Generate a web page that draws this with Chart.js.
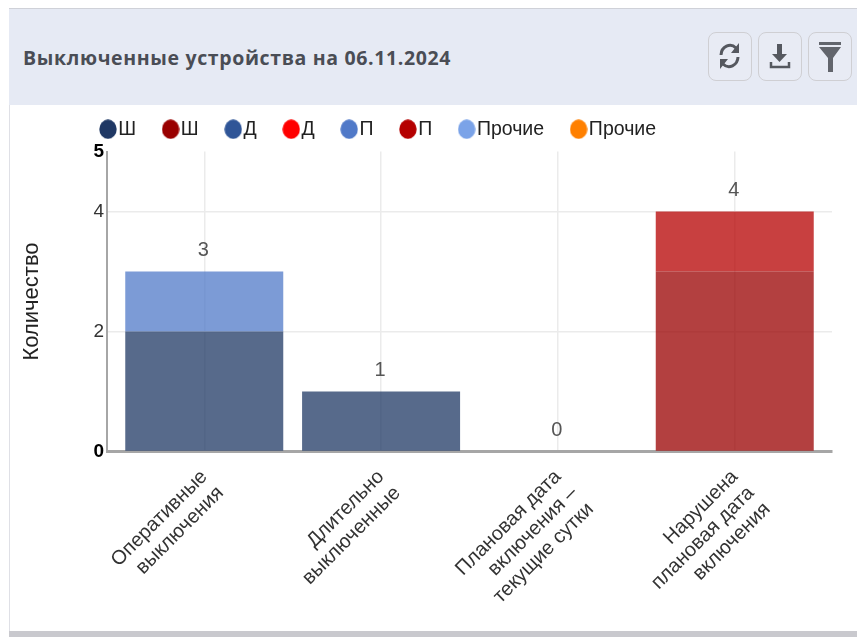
<!DOCTYPE html>
<html><head><meta charset="utf-8">
<style>
html,body{margin:0;padding:0;background:#fff;width:857px;height:637px;overflow:hidden}
#card{position:absolute;left:9px;top:8px;width:848px;height:629px;border-left:1px solid #dfe0e6;box-sizing:border-box}
#head{position:absolute;left:9px;top:8px;width:848px;height:97px;background:#e6eaf4;border-top:1px solid #cfd1d8;box-sizing:border-box}
#title{position:absolute;left:23px;top:44px;font:bold 19.5px "Open Sans";color:#4a4d55;white-space:nowrap;letter-spacing:.64px}
.btn{position:absolute;top:32px;width:44px;height:49px;border:1.5px solid #cfcfd3;border-radius:8px;box-sizing:border-box;background:#e8ebf4}
.btn svg{position:absolute;left:0;top:0}
#foot{position:absolute;left:9px;top:631px;width:848px;height:6px;background:#c9c9ce}
#wrap{position:absolute;left:10px;top:105px;width:847px;height:526px}
canvas{display:block}
</style></head><body>
<div id="card"></div><div id="head"></div>
<div id="title">Выключенные устройства на 06.11.2024</div>
<div class="btn" style="left:708px"><svg width="41" height="46" viewBox="0 0 41 46" fill="none"><path d="M12 22a9 10 0 0 1 15-7" stroke="#55585f" stroke-width="3"/><path d="M29 24a9 10 0 0 1-15 7" stroke="#55585f" stroke-width="3"/><path d="M30 10v10h-8z M11 36v-10h8z" fill="#55585f"/></svg></div>
<div class="btn" style="left:758px"><svg width="41" height="46" viewBox="0 0 41 46"><path d="M18 11h5v10h5l-7.500 8-7.500-8h5z" fill="#55585f"/><path d="M12 29v5h18v-5" stroke="#55585f" stroke-width="2.500" fill="none"/></svg></div>
<div class="btn" style="left:808px"><svg width="41" height="46" viewBox="0 0 41 46"><path d="M10 9h22v3H10z M10 14h22l-8 11v14h-5V25z" fill="#62656c"/></svg></div>
<div id="foot"></div>
<div id="wrap"><canvas id="c" width="847" height="526"></canvas></div>
<script src="https://cdn.jsdelivr.net/npm/chart.js@4"></script>
<script>
const categories=[["Оперативные","выключения"],["Длительно","выключенные"],["Плановая дата","включения –","текущие сутки"],["Нарушена","плановая дата","включения"]];
const positions=[0,1,2,3];
const shDark=[2,1,0,0];
const shRed=[0,0,0,3];
const dBlue=[0,0,0,0];
const dRed=[0,0,0,0];
const pBlue=[1,0,0,0];
const pRed=[0,0,0,1];
const otherBlue=[0,0,0,0];
const otherOrange=[0,0,0,0];
const totals=[3,1,0,4];
const yTicks=[0,2,4,5];
const seriesNames=["Ш","Ш","Д","Д","П","П","Прочие","Прочие"];
const seriesValues=[shDark,shRed,dBlue,dRed,pBlue,pRed,otherBlue,otherOrange];
const seriesColors=["#1f3864","#990000","#2f5597","#ff0000","#5079c8","#b50000","#7ba3e8","#ff8000"];
const FONT='"Liberation Sans"';
const dot=c=>{const k=document.createElement('canvas');k.width=18;k.height=20;const g=k.getContext('2d');g.fillStyle=c;g.beginPath();g.ellipse(9,10,8.7,9.7,0,0,Math.PI*2);g.fill();return k;};
const dots=seriesColors.map(dot);
const datasets=seriesNames.map((n,i)=>({label:n,
  data:seriesValues[i].map((v,j)=>({x:positions[j],y:v})),
  backgroundColor:seriesColors[i]+'bf',borderWidth:0,inflateAmount:0,barThickness:158}));
const totalsPlugin={id:'totals',afterDatasetsDraw(ch){
  const g=ch.ctx,x=ch.scales.x,y=ch.scales.y;g.save();
  g.font='20px '+FONT;g.fillStyle='#555';g.textAlign='center';g.textBaseline='middle';
  totals.forEach((t,i)=>g.fillText(String(t),x.getPixelForValue(positions[i])-1,y.getPixelForValue(t)-21));
  g.restore();}};
const legendFit={id:'legendFit',
 beforeLayout(ch){const l=ch.legend;if(!l._wrapped){const f=l.fit;l.fit=function(){f.call(this);this.height=46.5;};l._wrapped=true;}},
 afterLayout(ch){ch.legend.left=63.5;ch.legend.top=-19.5;}};
new Chart(document.getElementById('c'),{type:'bar',
 data:{datasets},
 plugins:[totalsPlugin,legendFit],
 options:{responsive:false,animation:false,
  layout:{padding:{left:0,right:25,top:0,bottom:0}},
  plugins:{title:{display:false},tooltip:{enabled:false},
   legend:{display:true,position:'top',align:'start',
    labels:{usePointStyle:true,boxHeight:1,boxWidth:1,padding:34,color:'#222',font:{family:FONT,size:19.5},
     generateLabels(ch){return Chart.defaults.plugins.legend.labels.generateLabels(ch).map((it,i)=>({...it,pointStyle:dots[i],fillStyle:seriesColors[i],strokeStyle:seriesColors[i],lineWidth:0}));}}}},
  scales:{
   x:{type:'linear',stacked:true,offset:false,min:-0.55,max:3.55,
    afterBuildTicks(ax){ax.ticks=positions.map(v=>({value:v}));},
    afterFit(ax){ax.height=179.5;},
    border:{color:'#a6a6a6',width:3},
    grid:{offset:false,color:'#ebebeb',lineWidth:1.5,drawTicks:false},
    ticks:{autoSkip:false,maxRotation:45,minRotation:45,padding:14,color:'#333',
     font:{family:FONT,size:20,lineHeight:1.15},
     callback:(v)=>categories[v]}},
   y:{stacked:true,min:0,max:5,
    afterBuildTicks(ax){ax.ticks=yTicks.map(v=>({value:v}));},
    afterFit(ax){ax.width=97;},
    border:{color:'#a6a6a6',width:2},
    grid:{color:c=>c.tick.value===5?'rgba(0,0,0,0)':'#ebebeb',lineWidth:1.5,drawTicks:false},
    title:{display:true,text:'Количество',color:'#222',font:{family:FONT,size:22},padding:{top:9,bottom:0}},
    ticks:{padding:3,color:c=>(c.tick.value===0||c.tick.value===5)?'#000':'#333',
     font:c=>({family:FONT,size:19,weight:(c.tick&&(c.tick.value===0||c.tick.value===5))?'bold':'normal'})}}
  }}});
</script></body></html>
